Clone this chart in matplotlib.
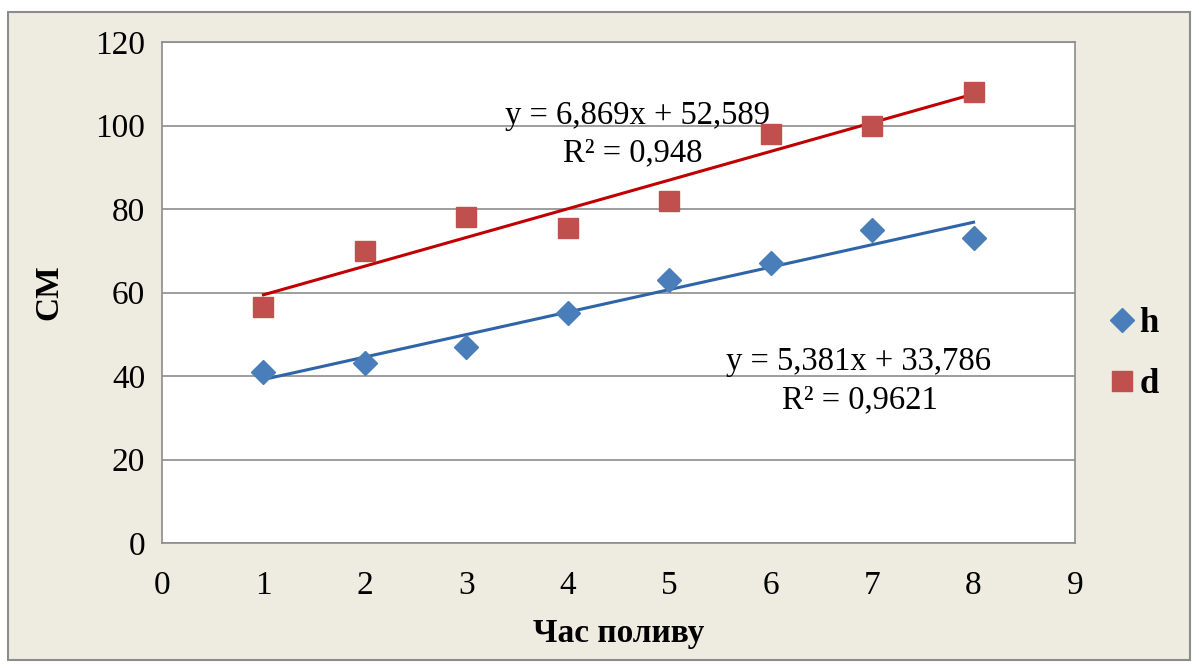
import numpy as np
import matplotlib
matplotlib.use("Agg")
import matplotlib.pyplot as plt
from matplotlib.patches import Rectangle

# --- data ---
hours = [1, 2, 3, 4, 5, 6, 7, 8]
h_vals = [41, 43, 47, 55, 63, 67, 75, 73]
d_vals = [56.5, 70, 78, 75.4, 82, 98, 100, 108]

x_ticks = [0, 1, 2, 3, 4, 5, 6, 7, 8, 9]
y_ticks = [0, 20, 40, 60, 80, 100, 120]

h_eq = "y = 5,381x + 33,786"
h_r2 = "R² = 0,9621"
d_eq = "y = 6,869x + 52,589"
d_r2 = "R² = 0,948"

plt.rcParams['font.family'] = ['Liberation Serif', 'DejaVu Serif']

fig = plt.figure(figsize=(11.99, 6.68), dpi=100)
fig.patch.set_facecolor('white')

# outer chart frame
fig.patches.append(Rectangle((8 / 1199, 1 - 660 / 668), 1182 / 1199, 648 / 668,
                             transform=fig.transFigure, facecolor='#EEEBE1',
                             edgecolor='#8C8C8C', linewidth=1.5, zorder=-5))

ax = fig.add_axes([162 / 1199, 1 - 543 / 668, 913 / 1199, 501 / 668])
ax.set_facecolor('white')

x = np.array(hours)
for vals, color, line_color, marker, ms, label in [
        (h_vals, '#4A7EBB', '#2F65A8', 'D', 12, 'h'),
        (d_vals, '#C0504D', '#C00000', 's', 15, 'd')]:
    ax.plot(hours, vals, linestyle='none', marker=marker, markersize=ms,
            color=color, label=label, zorder=3)
    k, b = np.polyfit(x, vals, 1)
    ax.plot(x, k * x + b, color=line_color, linewidth=2.2, zorder=2)

ax.text(6.87, 43.3, h_eq, ha='center', va='center', fontsize=23.5)
ax.text(6.88, 34.3, h_r2, ha='center', va='center', fontsize=23.5)
ax.text(4.69, 102.4, d_eq, ha='center', va='center', fontsize=23.5)
ax.text(4.64, 93.4, d_r2, ha='center', va='center', fontsize=23.5)

ax.set_xlim(0, 9)
ax.set_ylim(0, 120)
ax.set_xticks(x_ticks)
ax.set_yticks(y_ticks)
ax.tick_params(axis='x', length=0, labelsize=24, pad=20)
ax.tick_params(axis='y', length=0, labelsize=24, pad=12)
ax.yaxis.grid(True, color='#8C8C8C', linewidth=1.2)
ax.set_axisbelow(True)
for s in ax.spines.values():
    s.set_color('#8C8C8C')
    s.set_linewidth(1.2)

ax.set_xlabel("Час поливу", fontsize=24, fontweight='bold', labelpad=12)
ax.set_ylabel("СМ", fontsize=24, fontweight='bold', labelpad=22)

ax.legend(loc='center left', bbox_to_anchor=(1.0, 0.377), frameon=False,
          prop={'weight': 'bold', 'size': 25}, handletextpad=0.05,
          labelspacing=0.8, handlelength=0.9)

fig.savefig("out.png", dpi=100)
